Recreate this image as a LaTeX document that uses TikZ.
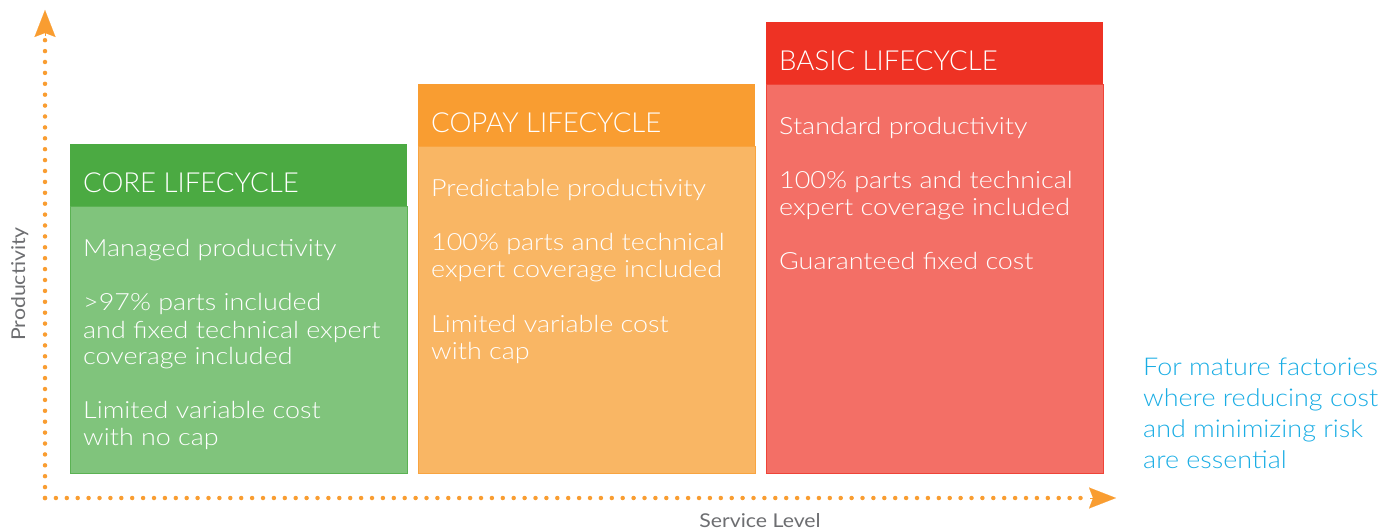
\documentclass[tikz,border=0pt]{standalone}
\usepackage{fontspec}
\setmainfont{Lato Light}
\newfontfamily\bodyf{Lato Light}[FakeStretch=1.135]
\newfontfamily\notef{Lato Light}[FakeStretch=1.10]
\newfontfamily\axisf{Lato}[FakeStretch=1.12]
\usetikzlibrary{arrows.meta}
\definecolor{gH}{HTML}{4BAA42}
\definecolor{gB}{HTML}{80C47C}
\definecolor{oH}{HTML}{F99D31}
\definecolor{oB}{HTML}{F9B664}
\definecolor{rH}{HTML}{EE3224}
\definecolor{rB}{HTML}{F36F66}
\definecolor{blueT}{HTML}{1AADE4}
\definecolor{grayT}{HTML}{6D6E71}
\tikzset{
  hdr/.style={rectangle, inner sep=0pt, anchor=north west, minimum width=337pt, minimum height=62pt},
  bodybox/.style={rectangle, inner sep=0pt, anchor=north west, minimum width=337pt, line width=1pt},
  htext/.style={anchor=base west, inner sep=0pt, text=white, font=\fontsize{27.6}{30}\selectfont},
  btext/.style={anchor=base west, inner sep=0pt, text=white, font=\bodyf\fontsize{23.7}{27}\selectfont},
  ntext/.style={anchor=base west, inner sep=0pt, text=blueT, font=\notef\fontsize{24.5}{31}\selectfont},
  axlabel/.style={inner sep=0pt, text=grayT, font=\axisf\fontsize{19}{22}\selectfont},
  dotline/.style={draw=oH, line width=4.5pt, line cap=round, dash pattern=on 0pt off 10.9pt},
  axtip/.style={-{Stealth[length=27pt,width=21pt,inset=4pt]}, oH}
}
\begin{document}
\begin{tikzpicture}[x=1pt,y=-1pt]
\useasboundingbox (0,0) rectangle (1392,529);
% axes
\coordinate (origin) at (45,498);
\coordinate (ytip) at (45,10);
\coordinate (xtip) at (1116,498);
\coordinate (yend) at (45,36);
\coordinate (xend) at (1090,498);
\draw[dotline] (origin) -- (yend);
\draw[dotline] (origin) -- (xend);
\draw[axtip, line width=0.1pt] (yend) -- (ytip);
\draw[axtip, line width=0.1pt] (xend) -- (xtip);
\node[axlabel, rotate=90, anchor=base] (ylab) at (25,284) {Productivity};
\node[axlabel, anchor=base] (xlab) at (760,527) {Service Level};

% CORE
\node[bodybox, fill=gB, draw=gH!70!gB, minimum height=267pt] (coreB) at (70,206) {};
\node[hdr, fill=gH] (coreH) at (70,144) {};
\node[htext] (coreT) at (83,193) {CORE LIFECYCLE};
\node[btext] (c1) at (83,257) {Managed productivity};
\node[btext] (c2) at (83,311) {>97\% parts included};
\node[btext] (c3) at (83,338) {and fixed technical expert};
\node[btext] (c4) at (83,364) {coverage included};
\node[btext] (c5) at (83,418) {Limited variable cost};
\node[btext] (c6) at (83,445) {with no cap};

% COPAY
\node[bodybox, fill=oB, draw=oH!70!oB, minimum height=327pt] (copayB) at (418,146) {};
\node[hdr, fill=oH] (copayH) at (418,84) {};
\node[htext] (copayT) at (431,133) {COPAY LIFECYCLE};
\node[btext] (o1) at (431,197) {Predictable productivity};
\node[btext] (o2) at (431,251) {100\% parts and technical};
\node[btext] (o3) at (431,278) {expert coverage included};
\node[btext] (o4) at (431,332) {Limited variable cost};
\node[btext] (o5) at (431,359) {with cap};

% BASIC
\node[bodybox, fill=rB, draw=rH!70!rB, minimum height=389pt] (basicB) at (766,84) {};
\node[hdr, fill=rH] (basicH) at (766,22) {};
\node[htext] (basicT) at (779,71) {BASIC LIFECYCLE};
\node[btext] (r1) at (779,135) {Standard productivity};
\node[btext] (r2) at (779,189) {100\% parts and technical};
\node[btext] (r3) at (779,216) {expert coverage included};
\node[btext] (r4) at (779,270) {Guaranteed fixed cost};

% note
\node[ntext] (n1) at (1143,375) {For mature factories};
\node[ntext] (n2) at (1143,406) {where reducing cost};
\node[ntext] (n3) at (1143,437) {and minimizing risk};
\node[ntext] (n4) at (1143,468) {are essential};
\end{tikzpicture}
\end{document}
